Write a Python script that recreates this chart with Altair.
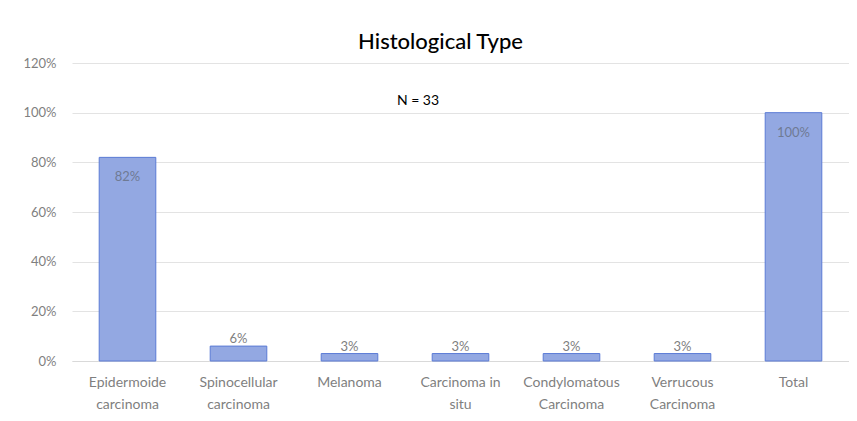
import altair as alt
import pandas as pd

categories = ["Epidermoide\ncarcinoma", "Spinocellular\ncarcinoma", "Melanoma",
              "Carcinoma in\nsitu", "Condylomatous\nCarcinoma", "Verrucous\nCarcinoma", "Total"]
values = [0.82, 0.06, 0.03, 0.03, 0.03, 0.03, 1.00]
labels = ["82%", "6%", "3%", "3%", "3%", "3%", "100%"]

df = pd.DataFrame({"cat": categories, "value": values, "label": labels})

x = alt.X("cat:N", sort=categories, title=None,
          scale=alt.Scale(paddingInner=0.49, paddingOuter=0.245),
          axis=alt.Axis(labelAngle=0, labelExpr="split(datum.label, '\\n')",
                        labelColor="#7f7f7f", labelFontSize=14, labelLineHeight=22,
                        labelPadding=14, ticks=False, domainColor="#d9d9d9",
                        labelFont="Lato"))
y = alt.Y("value:Q", title=None,
          scale=alt.Scale(domain=[0, 1.2], nice=False),
          axis=alt.Axis(values=[0, 0.2, 0.4, 0.6, 0.8, 1.0, 1.2], format=".0%",
                        labelColor="#7f7f7f", labelFontSize=13, labelPadding=16,
                        ticks=False, domain=False, gridColor="#e3e3e3",
                        labelFont="Lato"))

base = alt.Chart(df)

bars = base.mark_bar(color="#93a8e2", stroke="#5b7bd5", strokeWidth=1).encode(x=x, y=y)

big = base.transform_filter("datum.value >= 0.1").mark_text(
    dy=20, fontSize=13, color="#6f7a94", font="Lato").encode(x=x, y=y, text="label:N")
small = base.transform_filter("datum.value < 0.1").mark_text(
    dy=-7, fontSize=13, color="#7f7f7f", font="Lato").encode(x=x, y=y, text="label:N")

note = alt.Chart(pd.DataFrame({"t": ["N = 33"]})).mark_text(
    fontSize=14, color="#000000", font="Lato").encode(
    x=alt.value(346), y=alt.value(38), text="t:N")

chart = alt.layer(bars, big, small, note).properties(
    width=777, height=298,
    autosize=alt.AutoSizeParams(type="none"),
    padding={"left": 64, "top": 55, "right": 0, "bottom": 52},
    title=alt.TitleParams("Histological Type", fontSize=22, font="Lato",
                          fontWeight=500, color="#000000", anchor="middle",
                          dx=-20, offset=3),
    background="white",
).configure_view(stroke=None)

chart.save("out.html", embed_options={"renderer": "svg", "actions": False})
